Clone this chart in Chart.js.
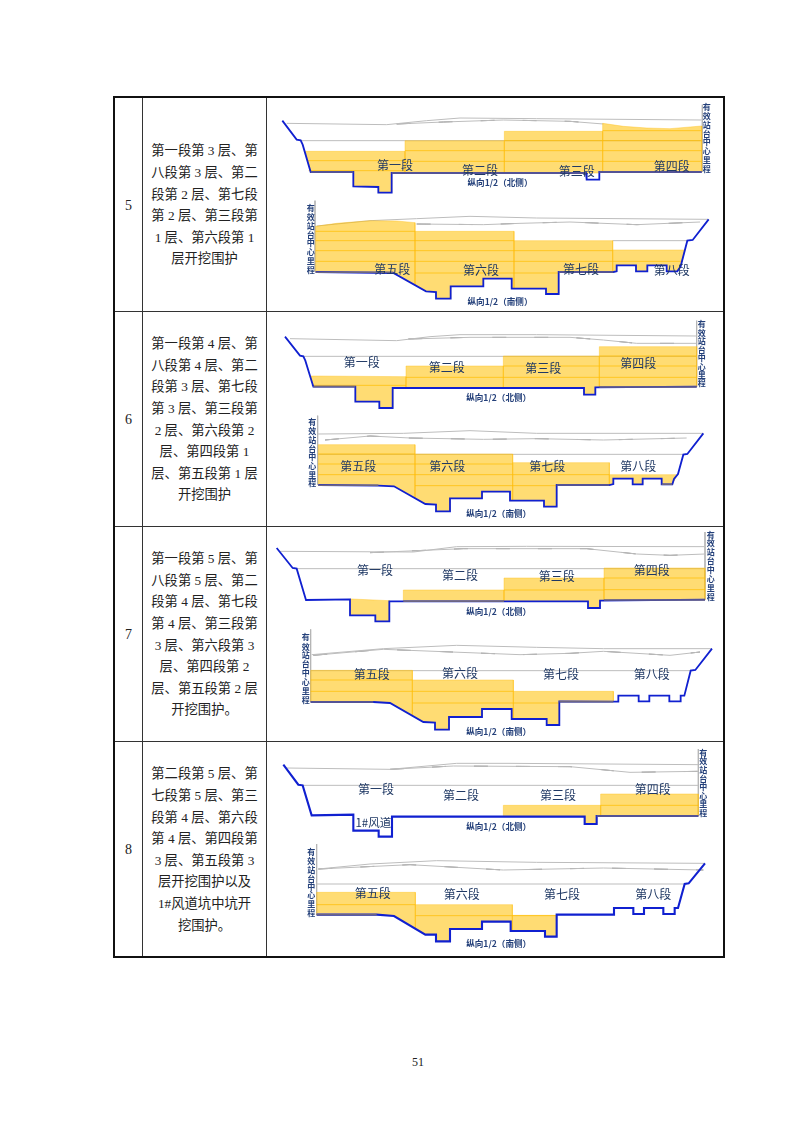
<!DOCTYPE html>
<html>
<head>
<meta charset="utf-8">
<title>纵向分段开挖围护</title>
<script src="https://cdn.jsdelivr.net/npm/chart.js@4"></script>
<style>
    body { margin: 0; background: #fff; width: 800px; height: 1132px; position: relative; overflow: hidden; }
    table { position: absolute; left: 113px; top: 96px; width: 612px; height: 862px; border-collapse: collapse; table-layout: fixed; border: 2.4px solid #111; font-family: "Liberation Serif", "Noto Sans CJK SC", serif; color: #222; }
    td { border: 1.4px solid #333; padding: 0; text-align: center; vertical-align: middle; }
    .num { font-size: 14px; padding-top: 3px; }
    .desc { font-size: 13.3px; line-height: 21.6px; padding-top: 2px; }
    canvas { position: absolute; left: 270px; filter: blur(0.35px); }
    #page { position: absolute; left: 400px; width: 36px; top: 1055px; text-align: center; font: 12px "Liberation Serif", serif; color: #222; }
</style>
</head>
<body>
<table>
    <colgroup><col style="width:28.5px"><col style="width:124px"><col></colgroup>
    <tr style="height:214px"><td class="num">5</td><td class="desc">第一段第 3 层、第<br>八段第 3 层、第二<br>段第 2 层、第七段<br>第 2 层、第三段第<br>1 层、第六段第 1<br>层开挖围护</td><td></td></tr>
    <tr style="height:215px"><td class="num">6</td><td class="desc">第一段第 4 层、第<br>八段第 4 层、第二<br>段第 3 层、第七段<br>第 3 层、第三段第<br>2 层、第六段第 2<br>层、第四段第 1<br>层、第五段第 1 层<br>开挖围护</td><td></td></tr>
    <tr style="height:215px"><td class="num">7</td><td class="desc">第一段第 5 层、第<br>八段第 5 层、第二<br>段第 4 层、第七段<br>第 4 层、第三段第<br>3 层、第六段第 3<br>层、第四段第 2<br>层、第五段第 2 层<br>开挖围护。</td><td></td></tr>
    <tr><td class="num">8</td><td class="desc">第二段第 5 层、第<br>七段第 5 层、第三<br>段第 4 层、第六段<br>第 4 层、第四段第<br>3 层、第五段第 3<br>层开挖围护以及<br>1#风道坑中坑开<br>挖围护。</td><td></td></tr>
</table>
<canvas id="row5" width="450" height="212" style="top:98px;width:450px;height:212px"></canvas>
<canvas id="row6" width="450" height="212" style="top:314px;width:450px;height:212px"></canvas>
<canvas id="row7" width="450" height="212" style="top:528px;width:450px;height:212px"></canvas>
<canvas id="row8" width="450" height="212" style="top:744px;width:450px;height:212px"></canvas>
<div id="page">51</div>
<script>
// all values, each row's chart runs 0-1350 across and 0-636 down
const sectionNames = ['第一段', '第二段', '第三段', '第四段', '第五段', '第六段', '第七段', '第八段'];
const sideLabel = ['有', '效', '站', '台', '中', '心', '里', '程'];
const northCaption = '纵向1/2（北侧）';
const southCaption = '纵向1/2（南侧）';

// row 5
const row5Rock = [[37,68],[80,125],[92,127],[98,140],[122,222],[250,222],[250,265],[325,267],[325,284],[365,284],[365,225],[948,225],[950,245],[988,245],[988,222],[1295,222]];
const row5RockSouth = [[137,522],[370,525],[468,580],[498,582],[498,602],[542,602],[542,565],[640,565],[640,542],[725,542],[725,572],[828,572],[828,588],[866,588],[866,522],[1030,522],[1040,520],[1040,502],[1098,502],[1098,520],[1132,520],[1132,502],[1190,502],[1190,520],[1222,520],[1232,505],[1252,428],[1268,426],[1316,364]];
const row5Muted = [[122,250,222],[365,948,225],[988,1295,222],[137,370,523],[866,1030,522]];
const row5Ground = [
    [[50,76],[350,80],[470,68],[570,60],[800,62],[1295,66]],
    [[380,78],[520,72],[700,66],[900,70],[1000,78]],
    [[92,128],[1295,128]],
    [[140,384],[300,368],[440,362],[600,355],[800,360],[1316,364]],
    [[440,378],[640,380],[750,376],[900,372],[1100,380],[1290,372]],
    [[1028,428],[1252,428]]
];
const row5Bands = [
    [[106,160],[405,160],[405,225],[365,225],[365,284],[325,284],[325,267],[250,265],[250,220],[122,220]],
    [[405,128],[703,128],[703,225],[405,225]],
    [[703,100],[998,100],[998,222],[988,222],[988,225],[703,225]],
    [[998,76],[1060,85],[1130,90],[1200,92],[1295,84],[1295,222],[998,222]],
    [[137,385],[200,376],[300,368],[380,369],[435,374],[435,561],[370,525],[137,522]],
    [[435,400],[732,400],[732,572],[725,572],[725,542],[640,542],[640,565],[542,565],[542,602],[498,602],[498,582],[468,580],[435,561]],
    [[732,428],[1028,428],[1028,522],[866,522],[866,588],[828,588],[828,572],[732,572]],
    [[1028,456],[1245,456],[1232,505],[1222,520],[1190,520],[1190,502],[1132,502],[1132,520],[1098,520],[1098,502],[1040,502],[1040,520],[1028,522]]
];
const row5Levels = [[112,405,188],[116,405,218],[405,703,158],[405,703,190],[703,998,128],[703,998,158],[703,998,190],[998,1295,98],[998,1295,128],[998,1295,158],[998,1295,190],[137,435,400],[137,435,428],[137,435,458],[137,435,490],[435,732,428],[435,732,458],[435,732,490],[435,866,525],[732,1028,458],[732,1028,490],[1028,1238,490]];
const row5Axes = [[1297,20,222],[135,308,522]];
const row5Names = [[375,203],[630,217],[920,220],[1205,205],[367,515],[633,516],[933,515],[1205,516]];
const row5SideNorth = [1310,28,55,81,108,133,160,186,212];
const row5SideSouth = [122,330,358,384,410,436,462,488,515];
const row5Captions = [[690,255],[690,610]];

// row 6
const row6Rock = [[45,68],[90,125],[100,127],[106,140],[130,218],[256,218],[256,263],[328,263],[328,282],[368,282],[368,222],[942,222],[942,242],[976,242],[976,220],[1280,218]];
const row6RockSouth = [[145,513],[325,515],[372,517],[466,570],[498,572],[498,592],[540,592],[540,553],[636,553],[636,533],[720,533],[720,560],[822,560],[822,578],[860,578],[860,513],[1018,513],[1030,510],[1030,494],[1088,494],[1088,511],[1118,511],[1118,494],[1175,494],[1175,511],[1207,511],[1212,495],[1224,480],[1240,422],[1252,420],[1300,358]];
const row6Muted = [[130,256,218],[988,1280,219],[145,325,514],[860,1018,513],[1175,1207,511]];
const row6Ground = [
    [[60,74],[380,80],[480,68],[570,62],[800,62],[1280,66]],
    [[415,75],[600,70],[900,70],[1000,78],[1100,88],[1280,88]],
    [[100,127],[1280,127]],
    [[143,360],[400,358],[600,350],[800,358],[1300,358]],
    [[165,378],[300,366],[420,372],[640,376],[800,374],[1000,378],[1250,372]],
    [[145,421],[1240,421]]
];
const row6Bands = [
    [[122,186],[408,188],[408,222],[368,222],[368,282],[328,282],[328,263],[256,263],[256,216],[130,216]],
    [[408,156],[700,156],[700,222],[408,222]],
    [[700,126],[988,126],[988,220],[976,220],[976,242],[942,242],[942,222],[700,222]],
    [[988,98],[1280,98],[1280,218],[988,218]],
    [[145,392],[435,392],[435,552],[372,517],[325,515],[145,513]],
    [[435,420],[728,420],[728,560],[720,560],[720,533],[636,533],[636,553],[540,553],[540,592],[498,592],[498,572],[466,570],[435,552]],
    [[728,446],[1018,446],[1018,513],[860,513],[860,578],[822,578],[822,560],[728,560]],
    [[1018,482],[1222,482],[1207,511],[1175,511],[1175,494],[1118,494],[1118,511],[1088,511],[1088,494],[1030,494],[1030,510],[1018,513]]
];
const row6Levels = [[125,408,214],[408,700,190],[700,988,156],[700,988,190],[988,1280,126],[988,1280,156],[988,1280,190],[145,435,420],[145,435,450],[145,435,482],[435,728,450],[435,728,482],[435,860,515],[728,1018,482]];
const row6Axes = [[1280,20,218],[143,305,512]];
const row6Names = [[275,146],[530,161],[820,162],[1105,147],[265,458],[532,458],[832,458],[1105,458]];
const row6SideNorth = [1295,30,56,82,108,133,158,183,208];
const row6SideSouth = [127,325,352,378,404,430,456,482,508];
const row6Captions = [[686,251],[686,600]];

// row 7
const row7Rock = [[20,60],[68,120],[80,122],[108,216],[240,214],[240,262],[316,262],[316,280],[358,280],[358,220],[954,220],[954,240],[990,240],[990,218],[1305,215]];
const row7RockSouth = [[122,522],[310,522],[360,525],[460,582],[495,584],[495,605],[537,605],[537,567],[636,567],[636,543],[725,543],[725,573],[830,573],[830,591],[868,591],[868,520],[1030,521],[1045,521],[1045,503],[1106,503],[1106,520],[1138,520],[1138,503],[1198,503],[1198,520],[1230,520],[1232,503],[1243,503],[1262,428],[1276,426],[1326,362]];
const row7Muted = [[1002,1305,216],[122,310,522],[868,1030,521],[400,702,220]];
const row7Ground = [
    [[30,70],[430,72],[560,56],[770,55],[1305,56]],
    [[300,74],[580,62],[950,62],[1100,78],[1200,82],[1305,78]],
    [[80,122],[1305,122]],
    [[125,380],[340,362],[560,352],[800,358],[1000,362],[1326,362]],
    [[130,382],[340,364],[750,380],[900,376],[1000,370],[1200,382],[1290,372]],
    [[122,428],[1262,428]]
];
const row7Bands = [
    [[245,213],[358,218],[358,280],[316,280],[316,262],[240,262],[240,213]],
    [[400,186],[702,186],[702,220],[400,220]],
    [[702,150],[1002,150],[1002,218],[990,218],[990,240],[954,240],[954,220],[702,220]],
    [[1002,120],[1305,120],[1305,215],[1002,215]],
    [[122,427],[427,427],[427,563],[360,525],[310,522],[122,522]],
    [[427,456],[730,456],[730,573],[725,573],[725,543],[636,543],[636,567],[537,567],[537,605],[495,605],[495,584],[460,582],[427,563]],
    [[730,490],[1030,490],[1030,521],[868,521],[868,591],[830,591],[830,573],[730,573]]
];
const row7Levels = [[702,1002,186],[1002,1305,150],[1002,1305,185],[122,427,456],[122,427,490],[427,730,490],[427,868,525]];
const row7Axes = [[1305,12,215],[122,304,522]];
const row7Names = [[315,127],[570,142],[860,145],[1145,128],[305,438],[570,437],[873,438],[1145,438]];
const row7SideNorth = [1322,20,46,72,99,127,153,180,206];
const row7SideSouth = [107,328,356,382,409,436,463,489,516];
const row7Captions = [[686,251],[686,612]];

// row 8
const row8Rock = [[40,62],[85,122],[98,124],[125,214],[250,212],[250,260],[326,260],[326,278],[366,278],[366,218],[944,218],[944,240],[980,240],[980,216],[1285,216]];
const row8RockSouth = [[140,512],[320,512],[372,516],[466,572],[498,572],[498,592],[540,592],[540,555],[636,555],[636,533],[722,533],[722,561],[825,561],[825,578],[860,578],[860,512],[1032,512],[1032,492],[1090,492],[1090,510],[1122,510],[1122,492],[1180,492],[1180,510],[1214,510],[1214,492],[1224,492],[1244,420],[1256,418],[1305,358]];
const row8Muted = [[980,1285,216],[140,320,512]];
const row8Ground = [
    [[50,72],[360,76],[560,58],[720,58],[1285,62]],
    [[360,76],[550,66],[900,68],[1080,85],[1285,82]],
    [[98,124],[1285,124]],
    [[145,375],[300,360],[500,350],[800,355],[1305,358]],
    [[145,375],[420,362],[700,378],[1000,372],[1300,378]],
    [[140,420],[1244,420]]
];
const row8Bands = [
    [[700,184],[992,184],[992,216],[980,216],[980,240],[944,240],[944,218],[700,218]],
    [[992,150],[1285,150],[1285,216],[992,216]],
    [[140,445],[436,445],[436,554],[372,516],[320,512],[140,512]],
    [[436,482],[727,482],[727,561],[722,561],[722,533],[636,533],[636,555],[540,555],[540,592],[498,592],[498,572],[466,572],[436,554]],
    [[727,514],[860,514],[860,578],[825,578],[825,561],[727,561]]
];
const row8Levels = [[992,1285,184],[140,436,482],[436,860,515]];
const row8Axes = [[1285,15,216],[140,300,512]];
const row8Names = [[318,137],[573,153],[864,153],[1148,137],[308,447],[575,450],[876,450],[1150,450]];
const row8SideNorth = [1300,26,50,77,104,130,155,180,206];
const row8SideSouth = [124,325,352,378,404,430,454,480,506];
const row8Captions = [[686,248],[686,600]];
const row8Shaft = ['1#风道', 310, 235];

function toPoints(list) {
    return list.map(p => ({ x: p[0], y: p[1] }));
}

// scatter dataset that is only a line, lower order sits on top
function lineSet(list, color, width, order, dash) {
    return { data: toPoints(list), showLine: true, pointRadius: 0, borderColor: color, borderWidth: width, order: order, fill: false, borderDash: dash || [] };
}

function bandSet(list) {
    const closed = list.concat([list[0]]);
    return {
        data: toPoints(closed), showLine: true, pointRadius: 0, order: 3, fill: 'shape',
        backgroundColor: 'rgba(255,192,0,0.55)', borderColor: 'rgba(255,190,20,0.5)', borderWidth: 0.8
    };
}

// canvas text placed through the chart's own scales
const pageText = {
    id: 'pageText',
    afterDatasetsDraw(chart, args, opts) {
        const ctx = chart.ctx;
        ctx.save();
        ctx.textAlign = 'center';
        ctx.textBaseline = 'middle';
        opts.items.forEach(item => {
            ctx.font = item.font;
            ctx.fillStyle = item.color;
            ctx.fillText(item.text, chart.scales.x.getPixelForValue(item.x), chart.scales.y.getPixelForValue(item.y));
        });
        ctx.restore();
    }
};

function sideItems(spec) {
    return sideLabel.map((ch, i) => ({ text: ch, x: spec[0], y: spec[i + 1], font: 'bold 8px "Noto Sans CJK SC"', color: '#24407a' }));
}

function drawRow(id, rock, rockSouth, muted, ground, bands, levels, axes, names, sideNorth, sideSouth, captions, rockWidth, extra) {
    const datasets = [];
    muted.forEach(m => datasets.push(lineSet([[m[0], m[2]], [m[1], m[2]]], '#6b6583', 1.5, 0)));
    datasets.push(lineSet(rock, '#1020d0', rockWidth, 1));
    datasets.push(lineSet(rockSouth, '#1020d0', rockWidth, 1));
    levels.forEach(l => datasets.push(lineSet([[l[0], l[2]], [l[1], l[2]]], 'rgba(255,190,0,0.8)', 0.9, 2)));
    bands.forEach(b => datasets.push(bandSet(b)));
    ground.forEach((g, i) => {
        datasets.push(lineSet(g, '#bdbdbd', 1, 4));
        if (i === 1 || i === 4) {
            datasets.push(lineSet(g, '#808080', 1, 4, [14, 28]));
        }
    });
    axes.forEach(a => datasets.push(lineSet([[a[0], a[1]], [a[0], a[2]]], '#b5b5b5', 0.9, 4)));

    let items = names.map((n, i) => ({ text: sectionNames[i], x: n[0], y: n[1], font: '12px "Noto Sans CJK SC"', color: '#1f3864' }));
    items = items.concat(sideItems(sideNorth), sideItems(sideSouth));
    items.push({ text: northCaption, x: captions[0][0], y: captions[0][1], font: 'bold 8.6px "Noto Sans CJK SC"', color: '#24407a' });
    items.push({ text: southCaption, x: captions[1][0], y: captions[1][1], font: 'bold 8.6px "Noto Sans CJK SC"', color: '#24407a' });
    if (extra) {
        items.push({ text: extra[0], x: extra[1], y: extra[2], font: '11.5px "Noto Sans CJK SC"', color: '#1f3864' });
    }

    new Chart(document.getElementById(id), {
        type: 'scatter',
        data: { datasets: datasets },
        options: {
            responsive: false,
            animation: false,
            layout: { padding: 0 },
            plugins: { legend: { display: false }, tooltip: { enabled: false }, pageText: { items: items } },
            scales: {
                x: { type: 'linear', display: false, min: 0, max: 1350 },
                y: { type: 'linear', display: false, min: 0, max: 636, reverse: true }
            }
        },
        plugins: [pageText]
    });
}

drawRow('row5', row5Rock, row5RockSouth, row5Muted, row5Ground, row5Bands, row5Levels, row5Axes, row5Names, row5SideNorth, row5SideSouth, row5Captions, 1.8);
drawRow('row6', row6Rock, row6RockSouth, row6Muted, row6Ground, row6Bands, row6Levels, row6Axes, row6Names, row6SideNorth, row6SideSouth, row6Captions, 1.8);
drawRow('row7', row7Rock, row7RockSouth, row7Muted, row7Ground, row7Bands, row7Levels, row7Axes, row7Names, row7SideNorth, row7SideSouth, row7Captions, 1.8);
drawRow('row8', row8Rock, row8RockSouth, row8Muted, row8Ground, row8Bands, row8Levels, row8Axes, row8Names, row8SideNorth, row8SideSouth, row8Captions, 2.1, row8Shaft);
</script>
</body>
</html>
